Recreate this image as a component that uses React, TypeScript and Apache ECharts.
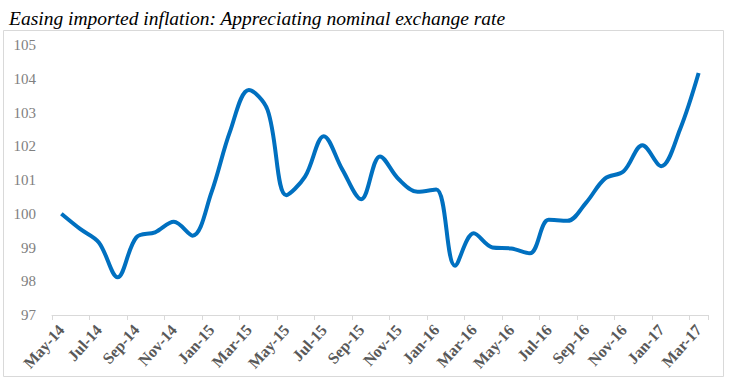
import React, { useEffect, useRef } from "react";
import * as echarts from "echarts";

const categories = [
  "May-14", "Jun-14", "Jul-14", "Aug-14", "Sep-14", "Oct-14", "Nov-14", "Dec-14",
  "Jan-15", "Feb-15", "Mar-15", "Apr-15", "May-15", "Jun-15", "Jul-15", "Aug-15",
  "Sep-15", "Oct-15", "Nov-15", "Dec-15", "Jan-16", "Feb-16", "Mar-16", "Apr-16",
  "May-16", "Jun-16", "Jul-16", "Aug-16", "Sep-16", "Oct-16", "Nov-16", "Dec-16",
  "Jan-17", "Feb-17", "Mar-17",
];

const exchangeRate = [
  100.0, 99.55, 99.15, 98.12, 99.3, 99.45, 99.76, 99.35,
  100.62, 102.44, 103.67, 103.08, 100.55, 101.1, 102.3, 101.3,
  100.43, 101.7, 101.02, 100.65, 100.72, 98.46, 99.42, 99.0,
  98.97, 98.83, 99.82, 99.79, 100.33, 101.04, 101.26, 102.03,
  101.41, 102.49, 104.17,
];

const yMin = 97;
const yMax = 105;
const yStep = 1;
const titleText = "Easing imported inflation: Appreciating nominal exchange rate";

export default function App() {
  const ref = useRef<HTMLDivElement>(null);

  useEffect(() => {
    if (!ref.current) return;
    const chart = echarts.init(ref.current, null, { renderer: "svg" });
    chart.setOption({
      animation: false,
      backgroundColor: "#ffffff",
      title: {
        text: titleText,
        left: 4,
        top: 3,
        textStyle: {
          fontFamily: "Liberation Serif",
          fontStyle: "italic",
          fontWeight: "normal",
          fontSize: 19.5,
          color: "#000000",
        },
      },
      graphic: [
        {
          type: "rect",
          shape: { x: 3.5, y: 30.5, width: 720, height: 346 },
          style: { fill: "none", stroke: "#d9d9d9", lineWidth: 1 },
          silent: true,
        },
      ],
      grid: { left: 52, right: 22, top: 45, bottom: 65, containLabel: false },
      xAxis: {
        type: "category",
        data: categories,
        boundaryGap: true,
        axisLine: { lineStyle: { color: "#d9d9d9", width: 1 } },
        axisTick: { show: true, interval: 1, length: 5, lineStyle: { color: "#d9d9d9" } },
        axisLabel: {
          interval: 1,
          rotate: 48,
          margin: 12,
          fontFamily: "Liberation Serif",
          fontWeight: "bold",
          fontSize: 16,
          color: "#595959",
        },
        splitLine: { show: false },
      },
      yAxis: {
        type: "value",
        min: yMin,
        max: yMax,
        interval: yStep,
        axisLine: { show: false },
        axisTick: { show: false },
        splitLine: { show: false },
        axisLabel: {
          margin: 16,
          fontFamily: "Liberation Serif",
          fontSize: 15,
          color: "#808080",
        },
      },
      series: [
        {
          type: "line",
          data: exchangeRate,
          smooth: 0.35,
          showSymbol: false,
          lineStyle: { color: "#0070C0", width: 4 },
          itemStyle: { color: "#0070C0" },
        },
      ],
    });
    return () => chart.dispose();
  }, []);

  return (
    <div
      ref={ref}
      style={{ position: "fixed", left: 0, top: 0, width: 730, height: 380 }}
    />
  );
}
